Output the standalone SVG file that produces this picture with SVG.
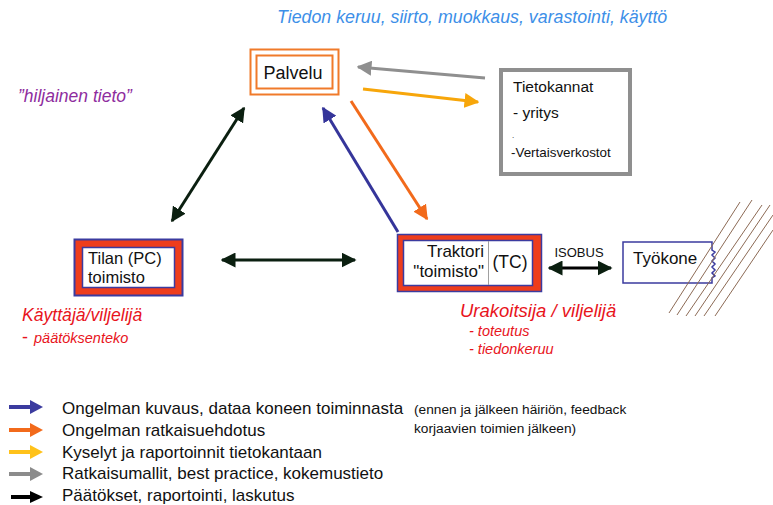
<svg xmlns="http://www.w3.org/2000/svg" width="773" height="505" viewBox="0 0 773 505">
  <style>
    text { font-family: "Liberation Sans", Arial, sans-serif; fill: #111; }
    .node { font-size: 17px; }
    .leg { font-size: 17px; }
    .it { font-style: italic; }
    .red { fill: #e8141c; }
    .conn { fill: none; stroke-width: 3; }
    .hatch { stroke: #8c6a55; stroke-width: 1; }
  </style>
  <defs>
    <marker id="hBlack" viewBox="0 0 10 10" refX="9" refY="5" markerWidth="5" markerHeight="5" orient="auto-start-reverse" markerUnits="strokeWidth">
      <path d="M0,0 L10,5 L0,10 z" fill="#0b1f10"/>
    </marker>
    <marker id="hGray" viewBox="0 0 10 10" refX="9" refY="5" markerWidth="5" markerHeight="5" orient="auto" markerUnits="strokeWidth">
      <path d="M0,0 L10,5 L0,10 z" fill="#8f8f8f"/>
    </marker>
    <marker id="hAmber" viewBox="0 0 10 10" refX="9" refY="5" markerWidth="5" markerHeight="5" orient="auto" markerUnits="strokeWidth">
      <path d="M0,0 L10,5 L0,10 z" fill="#f7a60a"/>
    </marker>
    <marker id="hOrange" viewBox="0 0 10 10" refX="9" refY="5" markerWidth="5" markerHeight="5" orient="auto" markerUnits="strokeWidth">
      <path d="M0,0 L10,5 L0,10 z" fill="#f26a1b"/>
    </marker>
    <marker id="hBlue" viewBox="0 0 10 10" refX="9" refY="5" markerWidth="5" markerHeight="5" orient="auto" markerUnits="strokeWidth">
      <path d="M0,0 L10,5 L0,10 z" fill="#35359a"/>
    </marker>
  </defs>

  <rect width="773" height="505" fill="#ffffff"/>

  <!-- headings and role labels -->
  <text x="277" y="23" font-size="17.8" class="it" style="fill:#3d8fe8">Tiedon keruu, siirto, muokkaus, varastointi, käyttö</text>
  <text x="18" y="102" font-size="17.5" class="it" style="fill:#8e2c9e">”hiljainen tieto”</text>
  <text x="22" y="321" font-size="17.6" class="it red">Käyttäjä/viljelijä</text>
  <text x="22" y="343" font-size="18" class="red">-</text>
  <text x="34" y="343" font-size="14.5" class="it red">päätöksenteko</text>
  <text x="460" y="317" font-size="18.5" class="it red">Urakoitsija / viljelijä</text>
  <text x="469" y="336" font-size="14.5" class="it red">- toteutus</text>
  <text x="469" y="354" font-size="14.5" class="it red">- tiedonkeruu</text>

  <!-- Palvelu -->
  <g id="palvelu">
    <rect x="250.5" y="49.5" width="88" height="45" fill="#fff" stroke="#f07a2a" stroke-width="2"/>
    <rect x="256.5" y="55.5" width="76" height="33" fill="#fff" stroke="#f07a2a" stroke-width="2"/>
    <text x="293" y="79" font-size="18" text-anchor="middle">Palvelu</text>
  </g>

  <!-- Tietokannat -->
  <g id="tietokannat">
    <rect x="501" y="70" width="129" height="104" fill="#fff" stroke="#8f8f8f" stroke-width="4"/>
    <text x="513" y="92" font-size="15.5">Tietokannat</text>
    <text x="513" y="118" font-size="15.5"> - yritys</text>
    <text x="512" y="138" font-size="8">.</text>
    <text x="511" y="157" font-size="13.4">-Vertaisverkostot</text>
  </g>

  <!-- Tilan (PC) toimisto -->
  <g id="tilan">
    <rect x="74.5" y="239.5" width="108" height="56" fill="#ee3d1c" stroke="#3b3b9f" stroke-width="2"/>
    <rect x="82.5" y="247.5" width="92" height="40" fill="#fff" stroke="#3b3b9f" stroke-width="1.5"/>
    <text x="88" y="264" font-size="16.5">Tilan (PC)</text>
    <text x="88" y="283" font-size="16.5">toimisto</text>
  </g>

  <!-- Traktori "toimisto" (TC) -->
  <g id="traktori">
    <rect x="397.5" y="234.5" width="144" height="57" fill="#ee3d1c" stroke="#3b3b9f" stroke-width="1.5"/>
    <rect x="403.5" y="240.5" width="129" height="45" fill="#fff" stroke="#3b3b9f" stroke-width="1.5"/>
    <line x1="488.5" y1="241" x2="488.5" y2="285" stroke="#a0a0a0" stroke-width="1"/>
    <text x="484" y="257" class="node" text-anchor="end">Traktori</text>
    <text x="484" y="277" class="node" text-anchor="end">"toimisto"</text>
    <text x="510" y="268" font-size="17.5" text-anchor="middle">(TC)</text>
  </g>

  <!-- Työkone with torn right edge -->
  <g id="tyokone">
    <path d="M712,242 L623,242 L623,283 L712,283 L712,278 l3,-2 l-3,-3 l3,-3 l-3,-3 l3,-3 l-3,-3 l3,-3 l-3,-3 l3,-3 l-3,-2 Z" fill="#fff" stroke="#3b3b9f" stroke-width="1.5"/>
    <text x="633" y="264" class="node">Työkone</text>
  </g>

  <!-- field hatching next to the implement -->
  <g id="pelto">
    <line class="hatch" x1="669" y1="313" x2="740" y2="202"/>
    <line class="hatch" x1="677" y1="315" x2="752" y2="200"/>
    <line class="hatch" x1="686" y1="316" x2="762" y2="205"/>
    <line class="hatch" x1="695" y1="316" x2="770" y2="205"/>
    <line class="hatch" x1="704" y1="316" x2="773" y2="215"/>
    <line class="hatch" x1="715" y1="316" x2="773" y2="230"/>
  </g>

  <!-- connectors -->
  <g id="connectors">
    <line class="conn" stroke="#0b1f10" x1="172" y1="221" x2="244" y2="108" marker-start="url(#hBlack)" marker-end="url(#hBlack)"/>
    <line class="conn" stroke="#0b1f10" x1="222" y1="260" x2="355" y2="260" marker-start="url(#hBlack)" marker-end="url(#hBlack)"/>
    <line class="conn" stroke="#8f8f8f" x1="485" y1="78" x2="358" y2="67" marker-end="url(#hGray)"/>
    <line class="conn" stroke="#f7a60a" x1="363" y1="89" x2="478" y2="102" marker-end="url(#hAmber)"/>
    <line class="conn" stroke="#f26a1b" x1="351" y1="101" x2="427" y2="219" marker-end="url(#hOrange)"/>
    <line class="conn" stroke="#35359a" x1="398" y1="232" x2="323" y2="108" marker-end="url(#hBlue)"/>
    <line class="conn" stroke="#000" x1="549" y1="268" x2="611" y2="268" marker-start="url(#hBlack)" marker-end="url(#hBlack)"/>
    <text x="579" y="257" font-size="13" text-anchor="middle">ISOBUS</text>
  </g>

  <!-- legend -->
  <g id="legend">
    <g stroke-width="4">
      <line x1="9" y1="407" x2="32" y2="407" stroke="#3b3b9f"/>
      <line x1="9" y1="430" x2="32" y2="430" stroke="#f26a1b"/>
      <line x1="9" y1="452" x2="32" y2="452" stroke="#ffc21a"/>
      <line x1="9" y1="474" x2="32" y2="474" stroke="#8c8c8c"/>
      <line x1="11" y1="497" x2="32" y2="497" stroke="#000"/>
    </g>
    <path d="M30,400 L43,407 L30,414 z" fill="#3b3b9f"/>
    <path d="M30,423 L43,430 L30,437 z" fill="#f26a1b"/>
    <path d="M30,445 L43,452 L30,459 z" fill="#ffc21a"/>
    <path d="M30,467 L43,474 L30,481 z" fill="#8c8c8c"/>
    <path d="M30,491 L43,497 L30,503 z" fill="#000"/>
    <text x="62" y="414" class="leg">Ongelman kuvaus, dataa koneen toiminnasta</text>
    <text x="62" y="436" class="leg">Ongelman ratkaisuehdotus</text>
    <text x="62" y="458" class="leg">Kyselyt ja raportoinnit tietokantaan</text>
    <text x="62" y="479" class="leg">Ratkaisumallit, best practice, kokemustieto</text>
    <text x="62" y="501" class="leg">Päätökset, raportointi, laskutus</text>
    <text x="414" y="414" font-size="13.7">(ennen ja jälkeen häiriön, feedback</text>
    <text x="414" y="433" font-size="13.7">korjaavien toimien jälkeen)</text>
  </g>
</svg>
